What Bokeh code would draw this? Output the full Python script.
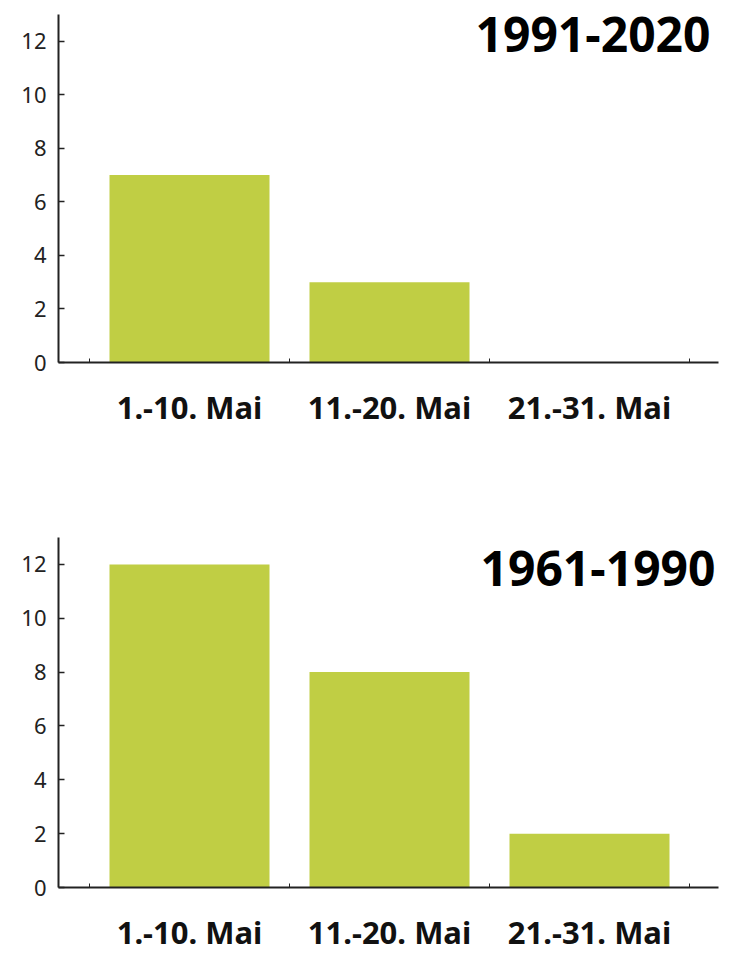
from bokeh.plotting import figure
from bokeh.models import Range1d, FixedTicker, Label
from bokeh.layouts import column
from bokeh.embed import file_html
from bokeh.resources import INLINE

categories = ["1.-10. Mai", "11.-20. Mai", "21.-31. Mai"]
values_1991_2020 = [7, 3, 0]
values_1961_1990 = [12, 8, 2]
titles = ["1991-2020", "1961-1990"]
y_ticks = [0, 2, 4, 6, 8, 10, 12]

BAR = "#c0ce44"
FONT = "Noto Sans"


def panel(vals, title, fh, top_border, bottom_border, title_x, title_y):
    n = len(categories)
    xs = [i + 0.5 for i in range(n)]
    p = figure(frame_width=660, frame_height=fh,
               x_range=Range1d(-0.155, n + 0.145), y_range=Range1d(0, 13),
               output_backend="svg", toolbar_location=None,
               min_border_left=58, min_border_right=20,
               min_border_top=top_border, min_border_bottom=bottom_border)
    p.vbar(x=xs, top=vals, width=0.8, color=BAR, line_color=None)
    p.xgrid.visible = False
    p.ygrid.visible = False
    p.outline_line_color = None
    p.background_fill_color = "white"
    p.border_fill_color = "white"

    xa = p.xaxis[0]
    xa.ticker = FixedTicker(ticks=xs, minor_ticks=list(range(n + 1)))
    xa.major_label_overrides = {x: c for x, c in zip(xs, categories)}
    xa.major_tick_in = 0
    xa.major_tick_out = 0
    xa.minor_tick_in = 4
    xa.minor_tick_out = 0
    xa.minor_tick_line_color = "#222222"
    xa.minor_tick_line_width = 1
    xa.axis_line_color = "#222222"
    xa.axis_line_width = 2
    xa.major_label_text_font = FONT
    xa.major_label_text_font_style = "bold"
    xa.major_label_text_font_size = "31px"
    xa.major_label_text_color = "#111111"
    xa.major_label_standoff = 23

    ya = p.yaxis[0]
    ya.ticker = FixedTicker(ticks=y_ticks)
    ya.major_tick_in = 6
    ya.major_tick_out = 0
    ya.minor_tick_in = 0
    ya.minor_tick_out = 0
    ya.major_tick_line_color = "#222222"
    ya.major_tick_line_width = 1.5
    ya.axis_line_color = "#222222"
    ya.axis_line_width = 2
    ya.major_label_text_font = FONT
    ya.major_label_text_font_size = "22px"
    ya.major_label_text_color = "#222222"
    ya.major_label_standoff = 12

    p.add_layout(Label(x=title_x, y=title_y, text=title, text_align="right",
                       text_baseline="alphabetic", text_font=FONT,
                       text_font_style="bold", text_font_size="48px",
                       text_color="black"))
    return p


p1 = panel(values_1991_2020, titles[0], 348, 14, 169, 3.105, 12.27)
p2 = panel(values_1961_1990, titles[1], 350, 6, 70, 3.13, 11.85)
layout = column(p1, p2, spacing=0)

open("out.html", "w").write(file_html(layout, INLINE))
